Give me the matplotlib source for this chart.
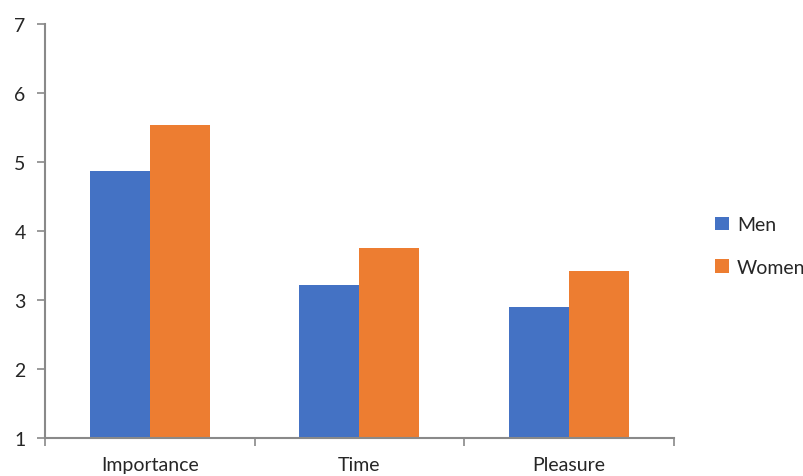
import matplotlib
matplotlib.use("Agg")
import matplotlib.pyplot as plt
import numpy as np

categories = ["Importance", "Time", "Pleasure"]
men = [4.87, 3.22, 2.89]
women = [5.54, 3.75, 3.42]
yticks = [1, 2, 3, 4, 5, 6, 7]

plt.rcParams['font.family'] = ['Lato', 'DejaVu Sans']

fig = plt.figure(figsize=(8.04, 4.77), dpi=100)
ax = fig.add_axes([0.056, 0.080, 0.782, 0.868])

x = np.arange(len(categories))
w = 0.286
ax.bar(x - w / 2, np.array(men) - 1, w, bottom=1, color="#4472C4", label="Men")
ax.bar(x + w / 2, np.array(women) - 1, w, bottom=1, color="#ED7D31", label="Women")

ax.set_xlim(-0.5, 2.5)
ax.set_ylim(1, 7)
ax.set_yticks(yticks)

# category labels on minor ticks, boundary ticks as major ticks
ax.set_xticks([-0.5, 0.5, 1.5, 2.5])
ax.set_xticklabels([])
ax.set_xticks(x, minor=True)
ax.set_xticklabels(categories, minor=True)
ax.tick_params(axis="x", which="minor", length=0, pad=13, labelsize=14, labelcolor="#262626")
ax.tick_params(axis="x", which="major", length=6, color="#898989", width=1.2)
ax.tick_params(axis="y", length=6, color="#898989", width=1.2, labelsize=14,
               labelcolor="#262626", pad=8)

for s in ["top", "right"]:
    ax.spines[s].set_visible(False)
for s in ["left", "bottom"]:
    ax.spines[s].set_color("#898989")
    ax.spines[s].set_linewidth(1.5)

fig.legend(loc="center left", bbox_to_anchor=(0.868, 0.482), frameon=False,
           fontsize=14, handlelength=0.7, handleheight=0.7, handletextpad=0.4,
           labelspacing=1.3, labelcolor="#262626")

fig.savefig("out.png", dpi=100)
